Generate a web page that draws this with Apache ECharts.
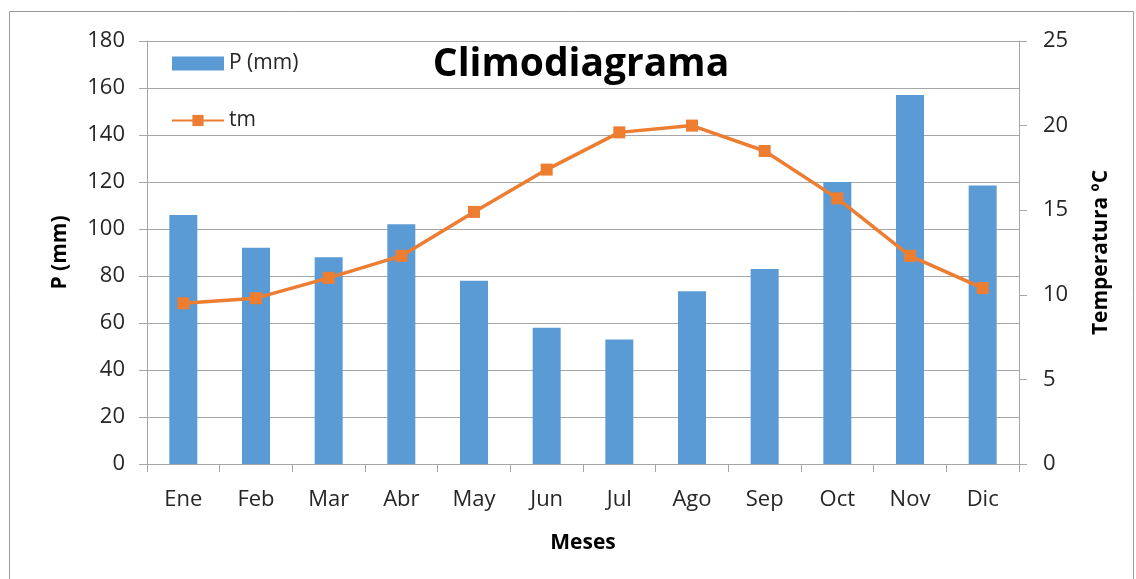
<!DOCTYPE html>
<html>
<head>
<meta charset="utf-8">
<script src="https://cdn.jsdelivr.net/npm/echarts@6/dist/echarts.min.js"></script>
<style>
  html, body { margin: 0; padding: 0; background: #fff; }
  #chart { width: 1136px; height: 579px; }
</style>
</head>
<body>
<div id="chart"></div>
<script>
  var meses = ['Ene', 'Feb', 'Mar', 'Abr', 'May', 'Jun', 'Jul', 'Ago', 'Sep', 'Oct', 'Nov', 'Dic']
  var precipitacion = [106, 92, 88, 102, 78, 58, 53, 73.5, 83, 120, 157, 118.5]
  var temperatura = [9.5, 9.8, 11.0, 12.3, 14.9, 17.4, 19.6, 20.0, 18.5, 15.7, 12.3, 10.4]

  var fuente = '"Open Sans", "Liberation Sans", sans-serif'
  var gris = '#a6a6a6'
  var texto = '#262626'

  var chart = echarts.init(document.getElementById('chart'))
  var option = {
    animation: false,
    backgroundColor: '#fff',
    textStyle: { fontFamily: fuente },
    title: {
      text: 'Climodiagrama',
      left: 576,
      textAlign: 'center',
      top: 40,
      textStyle: { fontSize: 39, fontWeight: 'bold', color: '#000', fontFamily: fuente }
    },
    graphic: [{
      type: 'rect',
      shape: { x: 9.5, y: 11.5, width: 1124, height: 580 },
      style: { fill: null, stroke: '#9a9a9a', lineWidth: 1 },
      silent: true
    }],
    legend: {
      orient: 'vertical',
      left: 166,
      top: 48,
      itemGap: 36,
      itemWidth: 52,
      itemHeight: 14,
      textStyle: { fontSize: 21, color: texto, fontFamily: fuente },
      data: [{ name: 'P (mm)', icon: 'rect' }, { name: 'tm' }]
    },
    grid: { left: 147, right: 117, top: 41, bottom: 115 },
    xAxis: {
      type: 'category',
      data: meses,
      name: 'Meses',
      nameLocation: 'middle',
      nameGap: 69,
      nameTextStyle: { fontSize: 21, fontWeight: 'bold', color: '#000' },
      axisLine: { lineStyle: { color: gris } },
      axisTick: { show: true, length: 8, lineStyle: { color: gris } },
      axisLabel: { fontSize: 22, color: texto, margin: 25 }
    },
    yAxis: [{
      type: 'value',
      min: 0,
      max: 180,
      interval: 20,
      name: 'P (mm)',
      nameLocation: 'middle',
      nameGap: 76,
      nameRotate: 90,
      nameTextStyle: { fontSize: 21, fontWeight: 'bold', color: '#000' },
      axisLine: { show: true, lineStyle: { color: gris } },
      axisTick: { show: true, length: 8, lineStyle: { color: gris } },
      axisLabel: { fontSize: 22, color: texto, margin: 22 },
      splitLine: { show: true, lineStyle: { color: gris, width: 1 } }
    }, {
      type: 'value',
      min: 0,
      max: 25,
      interval: 5,
      name: 'Temperatura ºC',
      nameLocation: 'middle',
      nameGap: 72,
      nameRotate: 90,
      nameTextStyle: { fontSize: 21, fontWeight: 'bold', color: '#000' },
      axisLine: { show: true, lineStyle: { color: gris } },
      axisTick: { show: true, length: 8, lineStyle: { color: gris } },
      axisLabel: { fontSize: 22, color: texto, margin: 24 },
      splitLine: { show: false }
    }],
    series: [{
      name: 'P (mm)',
      type: 'bar',
      data: precipitacion,
      barWidth: 28,
      itemStyle: { color: '#5b9bd5' }
    }, {
      name: 'tm',
      type: 'line',
      yAxisIndex: 1,
      data: temperatura,
      symbol: 'rect',
      symbolSize: 12,
      lineStyle: { color: '#ed7d31', width: 3.5 },
      itemStyle: { color: '#ed7d31' }
    }]
  }
  chart.setOption(option)
</script>
</body>
</html>
